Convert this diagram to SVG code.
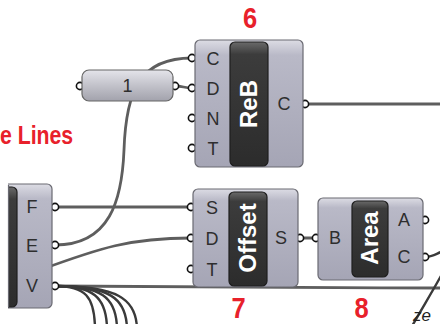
<svg xmlns="http://www.w3.org/2000/svg" width="440" height="324" viewBox="0 0 440 324">
  <defs>
    <linearGradient id="bodyGrad" x1="0" y1="0" x2="0" y2="1">
      <stop offset="0" stop-color="#dcdce4"/>
      <stop offset="0.12" stop-color="#b9b9c7"/>
      <stop offset="1" stop-color="#a5a5b5"/>
    </linearGradient>
    <linearGradient id="pillGrad" x1="0" y1="0" x2="0" y2="1">
      <stop offset="0" stop-color="#6a6a6a"/>
      <stop offset="0.1" stop-color="#3c3c3c"/>
      <stop offset="1" stop-color="#2c2c2c"/>
    </linearGradient>
    <linearGradient id="sliderGrad" x1="0" y1="0" x2="0" y2="1">
      <stop offset="0" stop-color="#e4e4ea"/>
      <stop offset="0.5" stop-color="#c2c2ca"/>
      <stop offset="1" stop-color="#a2a2ac"/>
    </linearGradient>
  </defs>
  <style>
    .wire { fill: none; stroke: #5e5e5e; stroke-width: 2.8; stroke-linecap: round; }
    .wire-dark { fill: none; stroke: #3a3a3a; stroke-width: 2.4; }
    .body { fill: url(#bodyGrad); stroke: #6a6a72; stroke-width: 1.2; }
    .pill { fill: url(#pillGrad); stroke: #1e1e1e; stroke-width: 1.2; }
    .port { fill: #ffffff; stroke: #111111; stroke-width: 1.6; }
    .lbl { font-family: "Liberation Sans", Arial, sans-serif; font-size: 18px; fill: #2e2e2e; text-anchor: middle; }
    .name { font-family: "Liberation Sans", Arial, sans-serif; font-size: 24px; font-weight: bold; fill: #ffffff; text-anchor: middle; }
    .num { font-family: "Liberation Sans", Arial, sans-serif; font-size: 30px; font-weight: bold; fill: #e8212b; text-anchor: middle; }
    .title { font-family: "Liberation Sans", Arial, sans-serif; font-size: 25px; font-weight: bold; fill: #e8212b; }
  </style>

  <rect x="0" y="0" width="440" height="324" fill="#ffffff"/>

  <!-- connectors -->
  <g id="wires">
    <path class="wire" d="M175,86 C183,86 184,88 192,88"/>
    <path class="wire" d="M55,245 C110,245 122,200 124,150 C126,90 140,58 192,58"/>
    <path class="wire" d="M55,207 L191,207"/>
    <path class="wire" d="M40,270 C100,248 130,238 191,238"/>
    <path class="wire" d="M55,286 C150,286 300,288 441,288"/>
    <path class="wire-dark" d="M55,286 C85,286 95,296 95,330"/>
    <path class="wire-dark" d="M55,286 C92,286 107,296 107,330"/>
    <path class="wire-dark" d="M55,286 C100,286 117,296 117,330"/>
    <path class="wire-dark" d="M55,286 C108,286 127,297 127,330"/>
    <path class="wire-dark" d="M55,286 C116,286 137,298 137,330"/>
    <path class="wire" d="M305,104 L441,104"/>
    <path class="wire" d="M300,238 L316,238"/>
    <path class="wire-dark" d="M425,257 C432,257 436,254 441,252"/>
    <path class="wire-dark" d="M442,274 C431,294 421,310 411,328"/>
  </g>

  <!-- number slider -->
  <g id="slider">
    <circle class="port" cx="80" cy="86" r="3.6"/>
    <circle class="port" cx="175" cy="86" r="3.6"/>
    <rect x="82" y="70" width="91" height="31" rx="7" fill="url(#sliderGrad)" stroke="#666" stroke-width="1.2"/>
    <text class="lbl" x="127.5" y="92" fill="#444">1</text>
  </g>

  <!-- rebuild curve -->
  <g id="reb">
    <circle class="port" cx="192" cy="58" r="3.6"/>
    <circle class="port" cx="192" cy="88" r="3.6"/>
    <circle class="port" cx="192" cy="118" r="3.6"/>
    <circle class="port" cx="192" cy="148" r="3.6"/>
    <circle class="port" cx="305" cy="104" r="3.6"/>
    <rect class="body" x="195" y="40" width="108" height="127" rx="5"/>
    <rect class="pill" x="230" y="42" width="38" height="124" rx="5"/>
    <text class="lbl" x="213" y="65">C</text>
    <text class="lbl" x="213" y="95">D</text>
    <text class="lbl" x="213" y="125">N</text>
    <text class="lbl" x="213" y="155">T</text>
    <text class="lbl" x="284" y="110">C</text>
    <text class="name" transform="translate(257,104) rotate(-90)">ReB</text>
  </g>

  <!-- explode component (left part out of frame) -->
  <g id="explode">
    <circle class="port" cx="55" cy="207" r="3.6"/>
    <circle class="port" cx="55" cy="245" r="3.6"/>
    <circle class="port" cx="55" cy="286" r="3.6"/>
    <rect class="body" x="-40" y="184" width="92" height="124" rx="5"/>
    <rect class="pill" x="-40" y="187" width="57" height="120" rx="5"/>
    <rect x="0" y="180" width="8" height="132" fill="#ffffff"/>
    <line x1="8.5" y1="185" x2="8.5" y2="307" stroke="#6a6a72" stroke-width="1.2"/>
    <text class="lbl" x="32" y="213">F</text>
    <text class="lbl" x="32" y="252">E</text>
    <text class="lbl" x="32" y="292">V</text>
  </g>

  <!-- offset curve -->
  <g id="offset">
    <circle class="port" cx="191" cy="207" r="3.6"/>
    <circle class="port" cx="191" cy="238" r="3.6"/>
    <circle class="port" cx="191" cy="269" r="3.6"/>
    <circle class="port" cx="300" cy="238" r="3.6"/>
    <rect class="body" x="193" y="189" width="105" height="98" rx="5"/>
    <rect class="pill" x="229" y="192" width="38" height="94" rx="5"/>
    <text class="lbl" x="212" y="214">S</text>
    <text class="lbl" x="212" y="245">D</text>
    <text class="lbl" x="212" y="276">T</text>
    <text class="lbl" x="281" y="244">S</text>
    <text class="name" transform="translate(256,238) rotate(-90)">Offset</text>
  </g>

  <!-- area -->
  <g id="area">
    <circle class="port" cx="316" cy="238" r="3.6"/>
    <circle class="port" cx="425" cy="220" r="3.6"/>
    <circle class="port" cx="425" cy="257" r="3.6"/>
    <rect class="body" x="318" y="198" width="105" height="82" rx="5"/>
    <rect class="pill" x="352" y="201" width="36" height="76" rx="5"/>
    <text class="lbl" x="335" y="244">B</text>
    <text class="lbl" x="404" y="226">A</text>
    <text class="lbl" x="404" y="263">C</text>
    <text class="name" transform="translate(378,238) rotate(-90)">Area</text>
  </g>

  <!-- callout labels -->
  <g id="labels">
    <text class="title" transform="translate(0,144) scale(0.85,1)">e Lines</text>
    <text class="num" transform="translate(250,28) scale(0.85,1)">6</text>
    <text class="num" transform="translate(238.5,318) scale(0.85,1)">7</text>
    <text class="num" transform="translate(361.5,318) scale(0.85,1)">8</text>
    <text x="413" y="321" font-family="Liberation Sans, Arial, sans-serif" font-size="17" font-style="italic" fill="#222">ze</text>
  </g>
</svg>
